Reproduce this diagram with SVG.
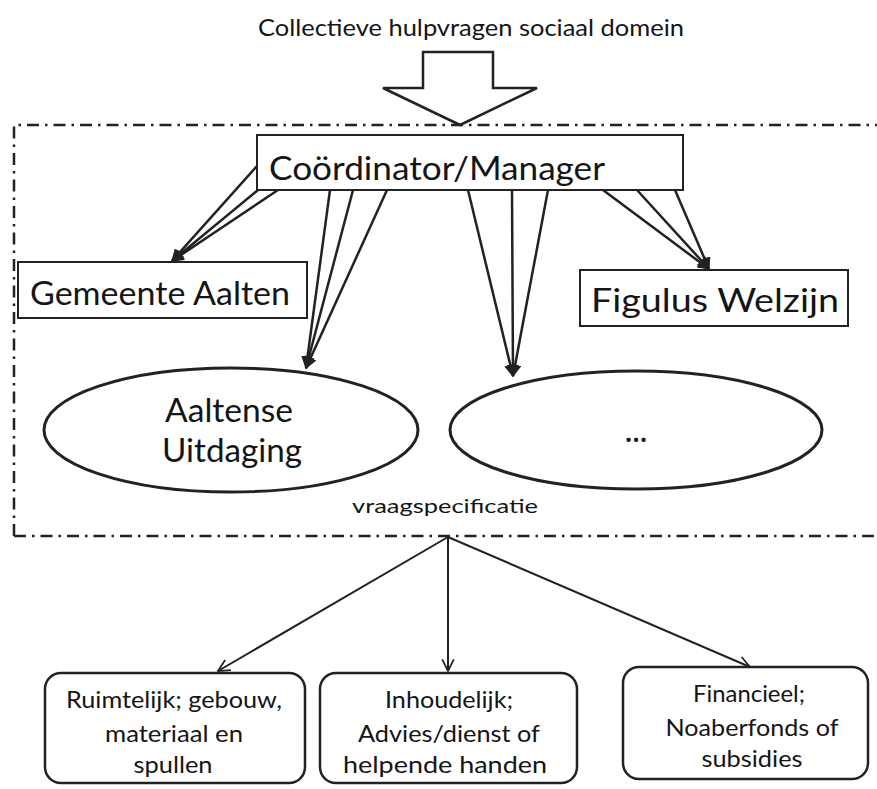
<svg xmlns="http://www.w3.org/2000/svg" width="877" height="789" viewBox="0 0 877 789">
<style>
text{font-family:"Lato","Open Sans","Liberation Sans",sans-serif;fill:#151515;text-anchor:middle}
.box{fill:#fff;stroke:#222;stroke-width:2}
.rbox{fill:#fff;stroke:#222;stroke-width:2.5}
.ell{fill:#fff;stroke:#222;stroke-width:3}
.c{stroke:#222;stroke-width:2.5;fill:none}
.c2{stroke:#222;stroke-width:2;fill:none}
.big{font-size:33px}
.small{font-size:24px}
</style>
<defs>
<marker id="fh" viewBox="0 0 10 10" refX="9" refY="5" markerWidth="5" markerHeight="5" orient="auto" markerUnits="strokeWidth">
<path d="M0,0 L10,5 L0,10 z" fill="#222"/>
</marker>
<marker id="vh" viewBox="0 0 12 12" refX="11" refY="6" markerWidth="7" markerHeight="7" orient="auto" markerUnits="strokeWidth">
<path d="M1,1 L11,6 L1,11" fill="none" stroke="#222" stroke-width="1.5"/>
</marker>
</defs>
<rect width="877" height="789" fill="#fff"/>

<g id="title">
<text x="471" y="36" style="font-size:24px" textLength="426" lengthAdjust="spacingAndGlyphs">Collectieve hulpvragen sociaal domein</text>
</g>
<g id="input-arrow">
<path d="M423,52 H493 V88 H537 L460,125 L383,88 H423 Z" fill="#fff" stroke="#222" stroke-width="2.5" stroke-linejoin="miter"/>
</g>
<g id="frame">
<path d="M14,536 V125 H880 M14,536 H880" fill="none" stroke="#222" stroke-width="2.5" stroke-dasharray="12,6,2.5,6"/>
</g>

<g id="connectors">
<line class="c" x1="257" y1="166" x2="172" y2="261" marker-end="url(#fh)"/>
<line class="c" x1="258" y1="190" x2="172" y2="261" marker-end="url(#fh)"/>
<line class="c" x1="278" y1="190" x2="172" y2="261" marker-end="url(#fh)"/>
<line class="c" x1="330" y1="190" x2="306" y2="368" marker-end="url(#fh)"/>
<line class="c" x1="353" y1="190" x2="306" y2="368" marker-end="url(#fh)"/>
<line class="c" x1="387" y1="190" x2="306" y2="368" marker-end="url(#fh)"/>
<line class="c" x1="468" y1="190" x2="513" y2="376" marker-end="url(#fh)"/>
<line class="c" x1="512" y1="190" x2="513" y2="376" marker-end="url(#fh)"/>
<line class="c" x1="548" y1="190" x2="513" y2="376" marker-end="url(#fh)"/>
<line class="c" x1="603" y1="190" x2="709" y2="269" marker-end="url(#fh)"/>
<line class="c" x1="637" y1="190" x2="709" y2="269" marker-end="url(#fh)"/>
<line class="c" x1="675" y1="190" x2="709" y2="269" marker-end="url(#fh)"/>
<line class="c2" x1="448" y1="537" x2="218" y2="671" marker-end="url(#vh)"/>
<line class="c2" x1="448" y1="537" x2="448" y2="671" marker-end="url(#vh)"/>
<line class="c2" x1="448" y1="537" x2="750" y2="667" marker-end="url(#vh)"/>
</g>

<g id="coordinator">
<rect class="box" x="257" y="135" width="426" height="55"/>
<text class="big" x="437" y="180" textLength="336" lengthAdjust="spacingAndGlyphs">Coördinator/Manager</text>
</g>
<g id="gemeente">
<rect class="box" x="18" y="262" width="289" height="56"/>
<text class="big" x="160" y="305" textLength="260" lengthAdjust="spacingAndGlyphs">Gemeente Aalten</text>
</g>
<g id="figulus">
<rect class="box" x="580" y="270" width="268" height="56"/>
<text class="big" x="715" y="312" textLength="248" lengthAdjust="spacingAndGlyphs">Figulus Welzijn</text>
</g>
<g id="aaltense">
<ellipse class="ell" cx="231" cy="430" rx="187" ry="62"/>
<text class="big" x="229" y="422" textLength="128" lengthAdjust="spacingAndGlyphs">Aaltense</text>
<text class="big" x="232" y="462" textLength="140" lengthAdjust="spacingAndGlyphs">Uitdaging</text>
</g>
<g id="other">
<ellipse class="ell" cx="636" cy="430" rx="186" ry="59"/>
<text class="big" x="636" y="442" font-weight="bold" style="font-size:28px">…</text>
</g>
<g id="vraag">
<text x="445" y="513" style="font-size:20px" textLength="186" lengthAdjust="spacingAndGlyphs">vraagspecificatie</text>
</g>
<g id="ruimtelijk">
<rect class="rbox" x="45" y="673" width="260" height="110" rx="16"/>
<text class="small" x="174" y="708" textLength="216" lengthAdjust="spacingAndGlyphs">Ruimtelijk; gebouw,</text>
<text class="small" x="174" y="742" textLength="138" lengthAdjust="spacingAndGlyphs">materiaal en</text>
<text class="small" x="173" y="773" textLength="79" lengthAdjust="spacingAndGlyphs">spullen</text>
</g>
<g id="inhoudelijk">
<rect class="rbox" x="320" y="673" width="257" height="110" rx="16"/>
<text class="small" x="449" y="708" textLength="128" lengthAdjust="spacingAndGlyphs">Inhoudelijk;</text>
<text class="small" x="449" y="742" textLength="182" lengthAdjust="spacingAndGlyphs">Advies/dienst of</text>
<text class="small" x="445" y="773" textLength="204" lengthAdjust="spacingAndGlyphs">helpende handen</text>
</g>
<g id="financieel">
<rect class="rbox" x="623" y="667" width="245" height="112" rx="16"/>
<text class="small" x="749" y="702" textLength="112" lengthAdjust="spacingAndGlyphs">Financieel;</text>
<text class="small" x="752" y="736" textLength="173" lengthAdjust="spacingAndGlyphs">Noaberfonds of</text>
<text class="small" x="752" y="767" textLength="101" lengthAdjust="spacingAndGlyphs">subsidies</text>
</g>
</svg>
